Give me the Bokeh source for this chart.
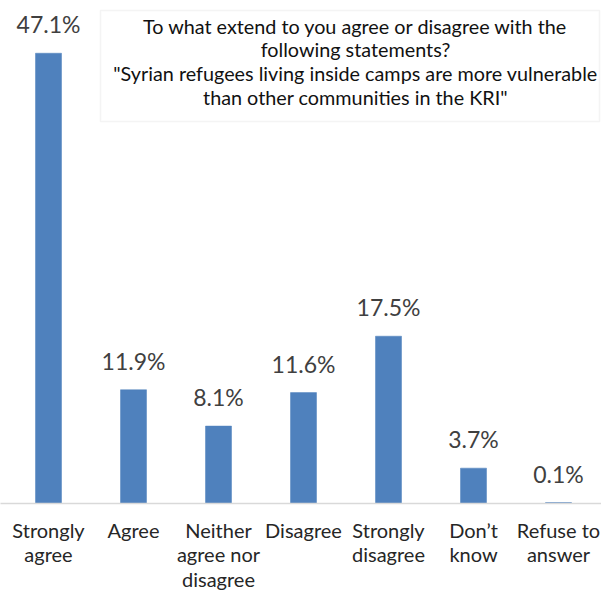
from bokeh.plotting import figure
from bokeh.models import Range1d, FixedTicker, ColumnDataSource, BoxAnnotation
from bokeh.core.properties import value
from bokeh.embed import file_html
from bokeh.resources import INLINE

categories = ["Strongly agree", "Agree", "Neither agree nor disagree", "Disagree",
              "Strongly disagree", "Don\u2019t know", "Refuse to answer"]
tick_labels = ["Strongly\nagree", "Agree", "Neither\nagree nor\ndisagree", "Disagree",
               "Strongly\ndisagree", "Don\u2019t\nknow", "Refuse to\nanswer"]
percent = [47.1, 11.9, 8.1, 11.6, 17.5, 3.7, 0.1]
title_lines = ["To what extend to you agree or disagree with the",
               "following statements?",
               "\"Syrian refugees living inside camps are more vulnerable",
               "than other communities in the KRI\""]

FW, FH = 601, 503        # frame size (px)
PX_PER_CAT = 85.0
PX_PER_UNIT = 9.56
X0_PX = 48.0             # x of first bar centre

xs = list(range(len(categories)))
src = ColumnDataSource(dict(
    x=xs, top=percent, cat=categories,
    lab=["%.1f%%" % v for v in percent],
))

p = figure(frame_width=FW, frame_height=FH, output_backend="svg", toolbar_location=None,
           min_border=0, min_border_left=0, min_border_right=0,
           min_border_top=0, min_border_bottom=0,
           x_range=Range1d(-X0_PX / PX_PER_CAT, (FW - X0_PX) / PX_PER_CAT),
           y_range=Range1d(0, FH / PX_PER_UNIT),
           y_axis_location=None)
p.outline_line_color = None
p.grid.visible = False
p.background_fill_color = "white"
p.border_fill_color = "white"

p.vbar(x="x", top="top", bottom=0, width=26 / PX_PER_CAT, source=src,
       fill_color="#4F81BD", line_color="#4F81BD", line_width=0.5)

p.text(x="x", y="top", text="lab", source=src, text_align="center",
       text_baseline="alphabetic", y_offset=-29,
       text_font=value("Lato"), text_font_size="23px", text_color="#404040")

ax = p.xaxis[0]
ax.ticker = FixedTicker(ticks=xs)
ax.major_label_overrides = {i: t for i, t in enumerate(tick_labels)}
ax.axis_line_color = "#D9D9D9"
ax.axis_line_width = 1.5
ax.major_tick_line_color = None
ax.minor_tick_line_color = None
ax.major_label_text_font = "Lato"
ax.major_label_text_font_size = "20px"
ax.major_label_text_color = "#262626"
ax.major_label_text_line_height = 1.03
ax.major_label_standoff = 8

# title box (data coordinates derived from pixel layout)
def px_to_x(px):
    return (px - X0_PX) / PX_PER_CAT

def px_to_y(py):
    return (FH - py) / PX_PER_UNIT

box = BoxAnnotation(left=px_to_x(100), right=px_to_x(599), top=px_to_y(10), bottom=px_to_y(121),
                    fill_color="white", fill_alpha=1.0, line_color="#D9D9D9", line_width=1.5,
                    level="underlay")
p.add_layout(box)

tsrc = ColumnDataSource(dict(
    x=[px_to_x(355)] * len(title_lines),
    y=[px_to_y(25 + 23.8 * i) for i in range(len(title_lines))],
    t=title_lines,
))
p.text(x="x", y="y", text="t", source=tsrc, text_align="center", text_baseline="alphabetic",
       text_font=value("Lato"), text_font_size="19.8px", text_color="#111111")

open("out.html", "w").write(file_html(p, INLINE))
